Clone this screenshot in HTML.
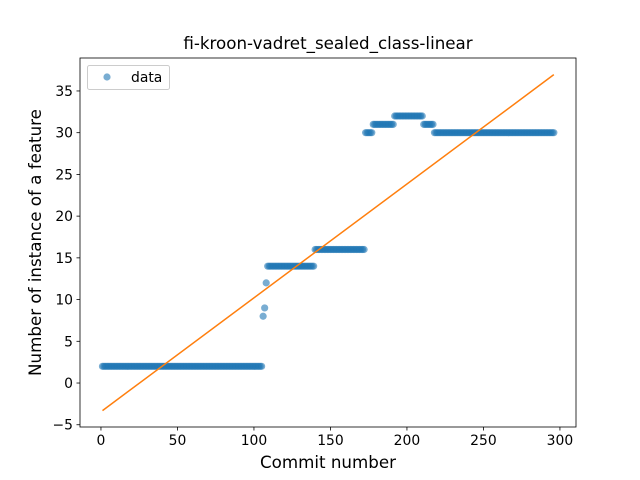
<!DOCTYPE html>
<html><head><meta charset="utf-8"><style>body{margin:0;background:#fff}svg{display:block;font-family:"DejaVu Sans","Liberation Sans",sans-serif}</style></head>
<body>
<svg id="chart" width="640" height="480" xmlns="http://www.w3.org/2000/svg"></svg>
<script>
const runValues=[2,8,9,12,14,16,30,31,32,31,30];
const runCounts=[105,1,1,1,31,33,5,14,19,7,79];
const xTicks=[0,50,100,150,200,250,300];
const yTicks=[-5,0,5,10,15,20,25,30,35];
const chartTitle="fi-kroon-vadret_sealed_class-linear";
const L=80,R=576,T=58,B=427;
const xmin=-13.7,xmax=310.5,ymin=-5.27,ymax=38.95;
const X=v=>L+(v-xmin)/(xmax-xmin)*(R-L);
const Y=v=>B-(v-ymin)/(ymax-ymin)*(B-T);
const svg=document.getElementById('chart');
const NS='http://www.w3.org/2000/svg';
function mk(tag,attrs,parent){const e=document.createElementNS(NS,tag);for(const k in attrs)e.setAttribute(k,attrs[k]);(parent||svg).appendChild(e);return e;}
const xs=[],ys=[];let n=1;
runValues.forEach((v,i)=>{for(let j=0;j<runCounts[i];j++){xs.push(n++);ys.push(v);}});
const pts=mk('g',{});


xs.forEach((x,i)=>{const c=mk('circle',{cx:X(x),cy:Y(ys[i]),r:3.6,fill:'#1f77b4','fill-opacity':0.6},pts);

});
const m=xs.length,mx=xs.reduce((a,b)=>a+b)/m,my=ys.reduce((a,b)=>a+b)/m;
let sxy=0,sxx=0;xs.forEach((x,i)=>{sxy+=(x-mx)*(ys[i]-my);sxx+=(x-mx)**2;});
const k=sxy/sxx,b0=my-k*mx;
const x0=xs[0],x1=xs[m-1];
const fl=mk('line',{x1:X(x0),y1:Y(k*x0+b0),x2:X(x1),y2:Y(k*x1+b0),stroke:'#ff7f0e','stroke-width':1.5});


const fr=mk('rect',{x:L,y:T,width:R-L,height:B-T,fill:'none',stroke:'#000','stroke-width':0.8});


xTicks.forEach(t=>{const g=mk('g',{});


mk('line',{x1:X(t),x2:X(t),y1:B,y2:B+3.5,stroke:'#000','stroke-width':0.8},g);
const tx=mk('text',{x:X(t),y:B+18,'text-anchor':'middle','font-size':13.9},g);tx.textContent=t;});
yTicks.forEach(t=>{const g=mk('g',{});


mk('line',{x1:L-3.5,x2:L,y1:Y(t),y2:Y(t),stroke:'#000','stroke-width':0.8},g);
const tx=mk('text',{x:L-7,y:Y(t)+5,'text-anchor':'end','font-size':13.9},g);tx.textContent=t<0?'\u2212'+(-t):t;});
const ti=mk('text',{x:(L+R)/2,y:T-9,'text-anchor':'middle','font-size':16.7});ti.textContent=chartTitle;


const xl=mk('text',{x:(L+R)/2,y:468,'text-anchor':'middle','font-size':16.7});xl.textContent='Commit number';


const yl=mk('text',{x:0,y:0,'text-anchor':'middle','font-size':16.7,transform:`translate(41,${(T+B)/2}) rotate(-90)`});yl.textContent='Number of instance of a feature';


const lg=mk('g',{});


mk('rect',{x:87.5,y:65.5,width:82,height:24,rx:2,fill:'#fff','fill-opacity':0.8,stroke:'#ccc'},lg);
mk('circle',{cx:107,cy:77,r:3.6,fill:'#1f77b4','fill-opacity':0.6},lg);
const lt=mk('text',{x:131,y:82,'font-size':13.9},lg);lt.textContent='data';
</script>
</body></html>
